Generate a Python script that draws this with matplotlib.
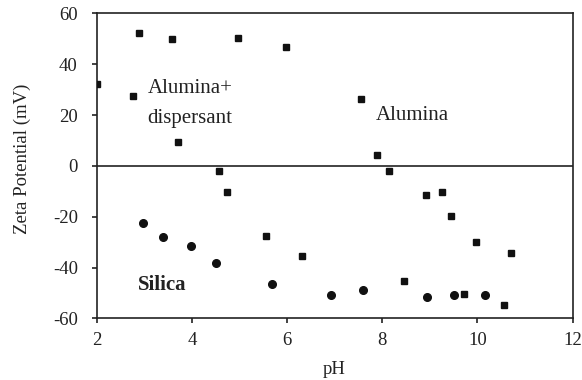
import numpy as np
import matplotlib.pyplot as plt

plt.rcParams['font.family'] = ['Liberation Serif', 'DejaVu Serif']
plt.rcParams['axes.unicode_minus'] = False

# alumina + dispersant (squares)
ph_disp = [2.0, 2.76, 3.71, 4.58, 4.74, 5.56, 6.31, 8.45, 9.72, 10.56]
zeta_disp = [32.2, 27.4, 9.3, -1.9, -10.2, -27.4, -35.5, -45.4, -50.2, -54.8]

# alumina (squares)
ph_alu = [2.88, 3.58, 4.97, 5.98, 7.56, 7.90, 8.15, 8.92, 9.25, 9.45, 9.96, 10.70]
zeta_alu = [52.2, 49.9, 50.2, 46.7, 26.2, 4.3, -2.2, -11.6, -10.4, -19.9, -29.9, -34.2]

# silica (circles)
ph_si = [2.97, 3.39, 3.99, 4.51, 5.69, 6.92, 7.59, 8.95, 9.51, 10.16]
zeta_si = [-22.6, -28.1, -31.5, -38.1, -46.4, -50.9, -48.8, -51.7, -50.6, -50.7]

xticks = [2, 4, 6, 8, 10, 12]
yticks = [-60, -40, -20, 0, 20, 40, 60]

fig = plt.figure(figsize=(5.82, 3.80), dpi=100)
ax = fig.add_axes([0.166, 0.162, 0.818, 0.803])

ax.axhline(0, color='#222222', lw=1.2, zorder=1)
ax.plot(ph_disp, zeta_disp, 's', color='#111111', ms=5, ls='none', zorder=3)
ax.plot(ph_alu, zeta_alu, 's', color='#111111', ms=5, ls='none', zorder=3)
ax.plot(ph_si, zeta_si, 'o', color='#111111', ms=5.5, ls='none', zorder=3)

ax.set_xlim(2, 12)
ax.set_ylim(-60, 60)
ax.set_xticks(xticks)
ax.set_yticks(yticks)
ax.tick_params(direction='out', length=3.5, width=1.2, labelsize=13.5, colors='#222222')
ax.tick_params(axis='y', pad=10)
ax.tick_params(axis='x', pad=6)
ax.tick_params(top=False, right=False)
for s in ax.spines.values():
    s.set_linewidth(1.2)
    s.set_color('#222222')

ax.set_xlabel('pH', fontsize=13.5, color='#222222', labelpad=9)
ax.set_ylabel('Zeta Potential (mV)', fontsize=13.5, color='#222222')
ax.yaxis.set_label_coords(-0.138, 0.524)

ax.text(3.07, 30.6, 'Alumina+', fontsize=15, ha='left', va='center', color='#222222')
ax.text(3.07, 18.8, 'dispersant', fontsize=15, ha='left', va='center', color='#222222')
ax.text(7.87, 20, 'Alumina', fontsize=15, ha='left', va='center', color='#222222')
ax.text(2.87, -47, 'Silica', fontsize=15, ha='left', va='center',
        fontweight='bold', color='#222222')

fig.savefig('out.png', dpi=100)
